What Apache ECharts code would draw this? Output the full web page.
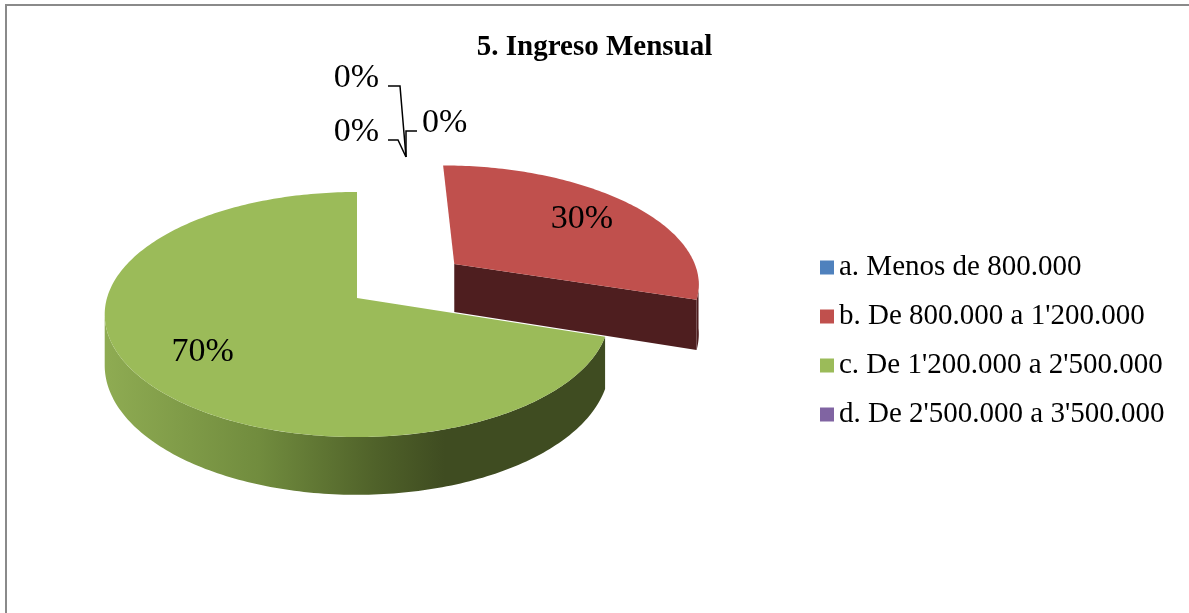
<!DOCTYPE html>
<html>
<head>
<meta charset="utf-8">
<script src="https://cdn.jsdelivr.net/npm/echarts@6/dist/echarts.min.js"></script>
<style>
  html, body { margin: 0; padding: 0; background: #ffffff; }
  #chart { width: 1189px; height: 613px; }
</style>
</head>
<body>
<div id="chart"></div>
<script>
// Income brackets and the share of respondents in each (percent)
const categories = [
  "a. Menos de 800.000",
  "b. De 800.000 a 1'200.000",
  "c. De 1'200.000 a 2'500.000",
  "d. De 2'500.000 a 3'500.000",
  ""
];
const shares = [0, 30, 70, 0, 0];
const legendNames = categories.slice(0, 4);
const chartTitle = "5. Ingreso Mensual";

// Styling
const topColors  = ['#4F81BD', '#C0504D', '#9BBB59', '#8064A2', '#4BACC6'];
const sideColors = ['#26405E', '#4E1E1F', null, '#40314F', '#255663'];
const explodedIndex = 1;          // slice pulled out of the pie
const FONT = '"Liberation Serif", "Times New Roman", serif';

// 3D pie projection: disk of unit radius, u to the right, v toward the viewer
const PIE = { cx: 357, cy: 298, rx: 250, ry: 120.3, persp: 0.1347, depth: 50, explode: 0.5, labelR: 0.72 };

function project(u, v, dz) {
  const s = 1 / (1 - v * PIE.persp);
  return [PIE.cx + PIE.rx * u * s, PIE.cy + PIE.ry * v * s + dz * PIE.depth * s];
}
function rim(theta, eu, ev, dz) {
  return project(eu + Math.sin(theta), ev - Math.cos(theta), dz);
}
const DEG = Math.PI / 180;
const total = shares.reduce((a, b) => a + b, 0);
const startAngles = [];
shares.reduce((acc, v, i) => { startAngles[i] = acc; return acc + v; }, 0);

// silhouette of the front wall under perspective
const frontFrom = Math.PI / 2 + Math.asin(PIE.persp);
const frontTo = 3 * Math.PI / 2 - Math.asin(PIE.persp);

// leader-label slots for empty slices, relative to their anchor
const zeroSlots = [
  { tx: -27, ty: -79, align: 'right', line: [[-18, -71], [-6, -71], [0, 0]] },
  { tx: -27, ty: -25, align: 'right', line: [[-18, -17], [-8, -17], [0, 0]] },
  { tx: 16,  ty: -34, align: 'left',  line: [[11, -26], [0, -26], [0, 0]] }
];
const zeroAnchorOffset = [49, -35];

function arcPoints(a0, a1, eu, ev, dz) {
  const pts = [];
  const n = Math.max(2, Math.ceil((a1 - a0) / DEG));
  for (let k = 0; k <= n; k++) pts.push(rim(a0 + (a1 - a0) * k / n, eu, ev, dz));
  return pts;
}

function renderSlice(params, api) {
  const i = params.dataIndex;
  const value = api.value(0);
  const a0 = startAngles[i] / total * 2 * Math.PI;
  const a1 = (startAngles[i] + value) / total * 2 * Math.PI;
  const children = [];

  if (value === 0) {
    let slot = 0;
    for (let k = 0; k < i; k++) if (shares[k] === 0) slot++;
    const z = zeroSlots[slot % zeroSlots.length];
    const base = rim(a0, 0, 0, 0);
    const ax = base[0] + zeroAnchorOffset[0], ay = base[1] + zeroAnchorOffset[1];
    children.push({
      type: 'polyline',
      shape: { points: z.line.map(p => [ax + p[0], ay + p[1]]) },
      style: { stroke: '#000000', lineWidth: 1.5, fill: null }
    });
    children.push({
      type: 'text',
      style: { text: api.value(0) + '%', x: ax + z.tx, y: ay + z.ty, fill: '#000000',
               font: '34px ' + FONT, align: z.align, verticalAlign: 'middle' }
    });
    return { type: 'group', children };
  }

  const mid = (a0 + a1) / 2;
  const e = i === explodedIndex ? PIE.explode : 0;
  const eu = e * Math.sin(mid), ev = -e * Math.cos(mid);
  const apexTop = project(eu, ev, 0), apexBot = project(eu, ev, 1);

  const sideFill = sideColors[i] || new echarts.graphic.LinearGradient(
    PIE.cx - PIE.rx, 0, PIE.cx + 0.35 * PIE.rx, 0,
    [{ offset: 0, color: '#8EAB52' }, { offset: 0.45, color: '#718C3E' },
     { offset: 0.8, color: '#4F6129' }, { offset: 1, color: '#3F4C21' }], true);

  // radial cut faces that turn toward the viewer
  [[a0, -1], [a1, 1]].forEach(([ang, dir]) => {
    const nv = -Math.cos(ang + dir * Math.PI / 2);
    if (nv > 0.01) {
      const rt = rim(ang, eu, ev, 0), rb = rim(ang, eu, ev, 1);
      children.push({ type: 'polygon', shape: { points: [apexTop, rt, rb, apexBot] },
                      style: { fill: sideColors[i] || '#3F4C21' } });
    }
  });

  // outer curved wall
  const s0 = Math.max(a0, frontFrom), s1 = Math.min(a1, frontTo);
  if (s1 > s0) {
    const upper = arcPoints(s0, s1, eu, ev, 0);
    const lower = arcPoints(s0, s1, eu, ev, 1).reverse();
    children.push({ type: 'polygon', shape: { points: upper.concat(lower) },
                    style: { fill: sideFill } });
  }

  // top face
  children.push({ type: 'polygon', shape: { points: [apexTop].concat(arcPoints(a0, a1, eu, ev, 0)) },
                  style: { fill: topColors[i] } });

  // percentage label
  const lp = project(eu + PIE.labelR * Math.sin(mid), ev - PIE.labelR * Math.cos(mid), 0);
  children.push({
    type: 'text',
    style: { text: value + '%', x: lp[0], y: lp[1], fill: '#000000',
             font: '34px ' + FONT, align: 'center', verticalAlign: 'middle' }
  });
  return { type: 'group', children };
}

const sliceData = shares.map((v, i) => ({ name: categories[i], value: [v] }));

const chart = echarts.init(document.getElementById('chart'), null, { renderer: 'canvas' });
chart.setOption({
  backgroundColor: '#ffffff',
  animation: false,
  title: {
    text: chartTitle,
    left: 'center',
    top: 28,
    textStyle: { fontFamily: FONT, fontSize: 29, fontWeight: 'bold', color: '#000000' }
  },
  legend: {
    data: legendNames,
    orient: 'vertical',
    left: 820,
    top: 253,
    padding: 0,
    icon: 'rect',
    itemWidth: 14,
    itemHeight: 14,
    itemGap: 20,
    selectedMode: false,
    textStyle: { fontFamily: FONT, fontSize: 29, color: '#000000' }
  },
  graphic: [{
    type: 'polyline',
    shape: { points: [[6, 700], [6, 5], [1300, 5]] },
    style: { stroke: '#8A8A8A', lineWidth: 2, fill: null },
    silent: true
  }],
  series: [
    {
      // carries the bracket names and colours for the legend
      type: 'pie',
      radius: [0, 0],
      center: [-50, -50],
      silent: true,
      label: { show: false },
      labelLine: { show: false },
      data: shares.map((v, i) => ({ name: categories[i], value: v, itemStyle: { color: topColors[i] } }))
    },
    {
      type: 'custom',
      coordinateSystem: 'none',
      silent: true,
      renderItem: renderSlice,
      data: sliceData
    }
  ]
});
</script>
</body>
</html>
